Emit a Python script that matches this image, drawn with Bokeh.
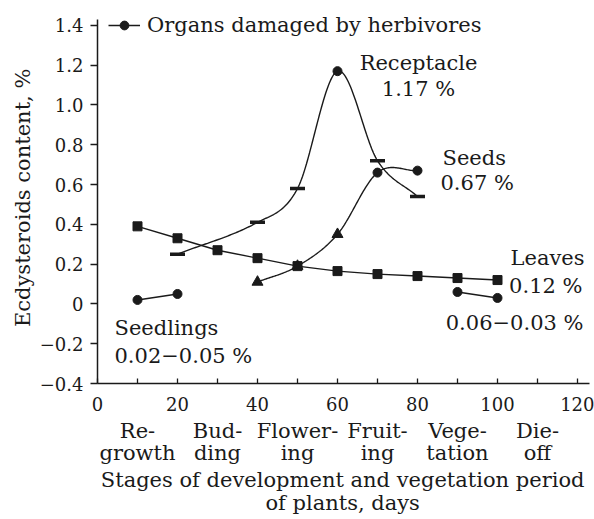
import numpy as np
from bokeh.plotting import figure
from bokeh.models import (FixedTicker, LinearAxis, Label, Legend, LegendItem,
                          CustomJSTickFormatter, Range1d)
from bokeh.embed import file_html
from bokeh.resources import INLINE

# ---------------- data ----------------
leaves_x = [10, 20, 30, 40, 50, 60, 70, 80, 90, 100]
leaves_y = [0.39, 0.33, 0.27, 0.23, 0.19, 0.165, 0.15, 0.14, 0.13, 0.12]

seedlings_x = [10, 20]
seedlings_y = [0.02, 0.05]

dieoff_x = [90, 100]
dieoff_y = [0.06, 0.03]

receptacle_x = [20, 40, 50, 60, 70, 80]
receptacle_y = [0.25, 0.41, 0.58, 1.17, 0.72, 0.54]
receptacle_damaged = [False, False, False, True, False, False]

seeds_x = [40, 50, 60, 70, 80]
seeds_y = [0.11, 0.19, 0.35, 0.66, 0.67]
seeds_damaged = [False, False, False, True, True]

x_major = [0, 20, 40, 60, 80, 100, 120]
x_minor = [10, 30, 50, 70, 90, 110]
y_ticks = [-0.4, -0.2, 0, 0.2, 0.4, 0.6, 0.8, 1.0, 1.2, 1.4]
stage_pos = [10, 30, 50, 70, 90, 110]
stage_labels = ["Re-\ngrowth", "Bud-\nding", "Flower-\ning", "Fruit-\ning",
                "Vege-\ntation", "Die-\noff"]

INK = "#1a1a1a"
FONT = "DejaVu Serif"


def smooth(xs, ys, n=40):
    """Cubic Hermite curve through the given points (for drawing only)."""
    xs = np.asarray(xs, float)
    ys = np.asarray(ys, float)
    m = np.empty_like(ys)
    m[1:-1] = (ys[2:] - ys[:-2]) / (xs[2:] - xs[:-2])
    m[0] = (ys[1] - ys[0]) / (xs[1] - xs[0])
    m[-1] = (ys[-1] - ys[-2]) / (xs[-1] - xs[-2])
    ox, oy = [], []
    for i in range(len(xs) - 1):
        h = xs[i + 1] - xs[i]
        t = np.linspace(0, 1, n, endpoint=(i == len(xs) - 2))
        h00 = 2 * t**3 - 3 * t**2 + 1
        h10 = t**3 - 2 * t**2 + t
        h01 = -2 * t**3 + 3 * t**2
        h11 = t**3 - t**2
        ox.extend(xs[i] + t * h)
        oy.extend(h00 * ys[i] + h10 * h * m[i] + h01 * ys[i + 1] + h11 * h * m[i + 1])
    return ox, oy


p = figure(frame_width=497, frame_height=378,
           min_border_left=97, min_border_right=0, min_border_top=5, min_border_bottom=0,
           x_range=Range1d(0, 124.25), y_range=Range1d(-0.4, 1.5),
           output_backend="svg", toolbar_location=None)
p.outline_line_color = None
p.grid.visible = False
p.background_fill_color = "white"

LW = 1.4
# lines
leaves_line = p.line(leaves_x, leaves_y, line_color=INK, line_width=LW)
seed_line = p.line(seedlings_x, seedlings_y, line_color=INK, line_width=LW)
p.line(dieoff_x, dieoff_y, line_color=INK, line_width=LW)
rx, ry = smooth(receptacle_x, receptacle_y)
p.line(rx, ry, line_color=INK, line_width=LW)
sx, sy = smooth(seeds_x, seeds_y)
p.line(sx, sy, line_color=INK, line_width=LW)

# markers
seed_dots = p.scatter(seedlings_x, seedlings_y, marker="circle", size=9, color=INK)
p.scatter(dieoff_x, dieoff_y, marker="circle", size=9, color=INK)
p.scatter([x for x, d in zip(receptacle_x, receptacle_damaged) if not d],
          [y for y, d in zip(receptacle_y, receptacle_damaged) if not d],
          marker="dash", size=15, line_width=3.5, line_color=INK)
p.scatter([x for x, d in zip(receptacle_x, receptacle_damaged) if d],
          [y for y, d in zip(receptacle_y, receptacle_damaged) if d],
          marker="circle", size=9, color=INK)
p.scatter([x for x, d in zip(seeds_x, seeds_damaged) if not d],
          [y for y, d in zip(seeds_y, seeds_damaged) if not d],
          marker="triangle", size=11, color=INK)
p.scatter([x for x, d in zip(seeds_x, seeds_damaged) if d],
          [y for y, d in zip(seeds_y, seeds_damaged) if d],
          marker="circle", size=9, color=INK)
p.scatter(leaves_x, leaves_y, marker="square", size=9, color=INK)

# x axis (days)
xa = p.xaxis[0]
xa.ticker = FixedTicker(ticks=x_major, minor_ticks=x_minor)
xa.bounds = (0, 123)
xa.major_tick_in = 5
xa.major_tick_out = 0
xa.minor_tick_in = 5
xa.minor_tick_out = 0
xa.axis_line_width = 1.5
xa.major_tick_line_width = 1.3
xa.minor_tick_line_width = 1.3
xa.axis_line_color = INK
xa.major_tick_line_color = INK
xa.minor_tick_line_color = INK
xa.major_label_standoff = 13
xa.major_label_text_font = FONT
xa.major_label_text_font_size = "18px"
xa.major_label_text_color = INK

# y axis
ya = p.yaxis[0]
ya.ticker = FixedTicker(ticks=y_ticks)
ya.bounds = (-0.4, 1.43)
ya.formatter = CustomJSTickFormatter(
    code="return tick === 0 ? '0' : tick.toFixed(1).replace('-', '\u2212');")
ya.major_tick_in = 0
ya.major_tick_out = 7
ya.minor_tick_line_color = None
ya.axis_line_width = 1.5
ya.major_tick_line_width = 1.3
ya.axis_line_color = INK
ya.major_tick_line_color = INK
ya.major_label_standoff = 7
ya.major_label_text_font = FONT
ya.major_label_text_font_size = "18px"
ya.major_label_text_color = INK
ya.axis_label = "Ecdysteroids content,  %"
ya.axis_label_text_font = FONT
ya.axis_label_text_font_size = "21px"
ya.axis_label_text_font_style = "normal"
ya.axis_label_text_color = INK
ya.axis_label_standoff = 2

# stage axis
stage_axis = LinearAxis(
    ticker=FixedTicker(ticks=stage_pos, minor_ticks=[]),
    major_label_overrides=dict(zip(stage_pos, stage_labels)),
    axis_line_color=None, major_tick_line_color=None, minor_tick_line_color=None,
    major_tick_in=0, major_tick_out=0, major_label_standoff=5,
    major_label_text_font=FONT, major_label_text_font_size="21px",
    major_label_text_color=INK, major_label_text_line_height=0.95,
    axis_label="Stages of  development and vegetation period\nof  plants, days",
    axis_label_text_font=FONT, axis_label_text_font_size="21px",
    axis_label_text_font_style="normal", axis_label_text_color=INK,
    axis_label_standoff=0, axis_label_text_line_height=0.95)
p.add_layout(stage_axis, "below")

# annotations
def note(x, y, text, align):
    p.add_layout(Label(x=x, y=y, text=text, text_align=align, text_baseline="middle",
                       text_font=FONT, text_font_size="21px", text_color=INK))

note(80.25, 1.211, "Receptacle", "center")
note(80.25, 1.080, "1.17 %", "center")
note(86.25, 0.734, "Seeds", "left")
note(85.75, 0.608, "0.67 %", "left")
note(121.75, 0.231, "Leaves", "right")
note(121.25, 0.090, "0.12 %", "right")
note(121.5, -0.095, "0.06\u22120.03 %", "right")
note(4.25, -0.121, "Seedlings", "left")
note(4.25, -0.261, "0.02\u22120.05 %", "left")

# legend (line + dot glyph)
legend = Legend(items=[LegendItem(label="Organs damaged by herbivores",
                                  renderers=[seed_line, seed_dots])],
                location=(11, 346), padding=0, margin=0, spacing=0,
                glyph_width=32, glyph_height=22, label_height=20, label_standoff=7,
                label_text_font=FONT, label_text_font_size="21px",
                label_text_color=INK, border_line_color=None,
                background_fill_alpha=0)
p.add_layout(legend)

open("out.html", "w").write(file_html(p, INLINE))
